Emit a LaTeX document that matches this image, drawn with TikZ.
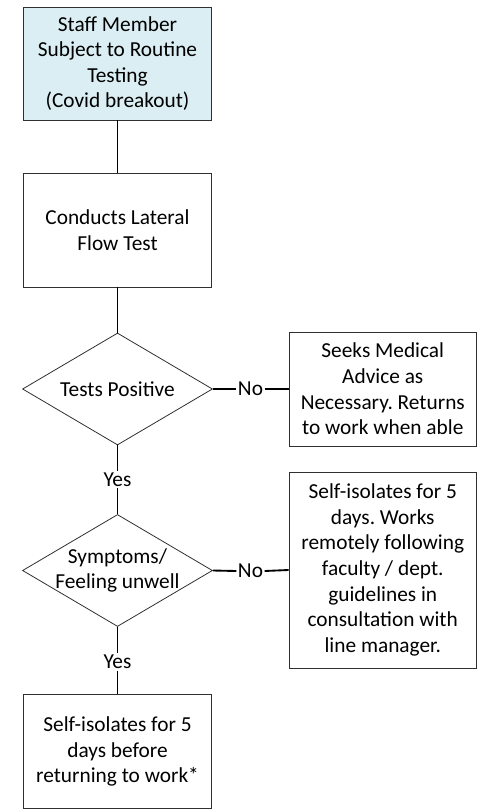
\documentclass[tikz,border=0pt]{standalone}
\usepackage{fontspec}
\setmainfont{Carlito}
\frenchspacing
\usetikzlibrary{shapes.geometric}
\definecolor{lightaqua}{HTML}{DAEEF3}
\definecolor{edgegray}{HTML}{303030}
\tikzset{
  stepbox/.style={draw=edgegray, line width=0.7pt, align=center, inner sep=0pt,
    minimum width=141.5pt, font=\fontsize{16}{19.2}\selectfont},
  decision/.style={draw=edgegray, line width=0.6pt, diamond, inner sep=0pt,
    minimum width=142.5pt, minimum height=84pt},
  dtext/.style={align=center, inner sep=0pt, font=\fontsize{16}{19.2}\selectfont},
  lbl/.style={inner sep=1pt, font=\fontsize{16}{19.2}\selectfont},
  conn/.style={line width=1.4pt, black}
}
\begin{document}
\begin{tikzpicture}[x=0.75pt, y=-0.75pt]
\useasboundingbox (0,0) rectangle (477,809);
\node[stepbox, fill=lightaqua, minimum height=84.75pt] (start) at (117.5,63.5)
  {Staff Member\\Subject to Routine\\Testing\\(Covid breakout)};
\node[stepbox, minimum height=85.5pt] (lft) at (117.5,230) {Conducts Lateral\\Flow Test};
\node[decision] (d1) at (117.5,389) {};
\node[dtext] at (d1) {Tests Positive};
\node[stepbox, minimum height=85.5pt, minimum width=140.5pt] (medical) at (382.75,389)
  {Seeks Medical\\Advice as\\Necessary. Returns\\to work when able};
\node[lbl] (no1) at (250.5,389) {No};
\node[lbl] (yes1) at (117.5,479.5) {Yes};
\node[decision] (d2) at (117.5,570.5) {};
\node[dtext] at (d2) {Symptoms/\\Feeling unwell};
\node[stepbox, minimum height=147pt, minimum width=140.5pt] (remote) at (382.75,570)
  {Self-isolates for 5\\days. Works\\remotely following\\faculty / dept.\\guidelines in\\consultation with\\line manager.};
\node[lbl] (no2) at (250.5,571) {No};
\node[lbl] (yes2) at (117.5,662) {Yes};
\node[stepbox, minimum height=85pt] (isolate) at (117.5,751.5)
  {Self-isolates for 5\\days before\\returning to work*};
\draw[conn] (start) -- (lft);
\draw[conn] (lft) -- (d1);
\draw[conn] (d1.east) -- (no1.west);
\draw[conn] (no1.east) -- (medical.west);
\draw[conn] (d1.south) -- (yes1.north);
\draw[conn] (yes1.south) -- (d2.north);
\draw[conn] (d2.east) -- (no2.west);
\draw[conn] (no2.east) -- (remote.west);
\draw[conn] (d2.south) -- (yes2.north);
\draw[conn] (yes2.south) -- (isolate.north);
\end{tikzpicture}
\end{document}
